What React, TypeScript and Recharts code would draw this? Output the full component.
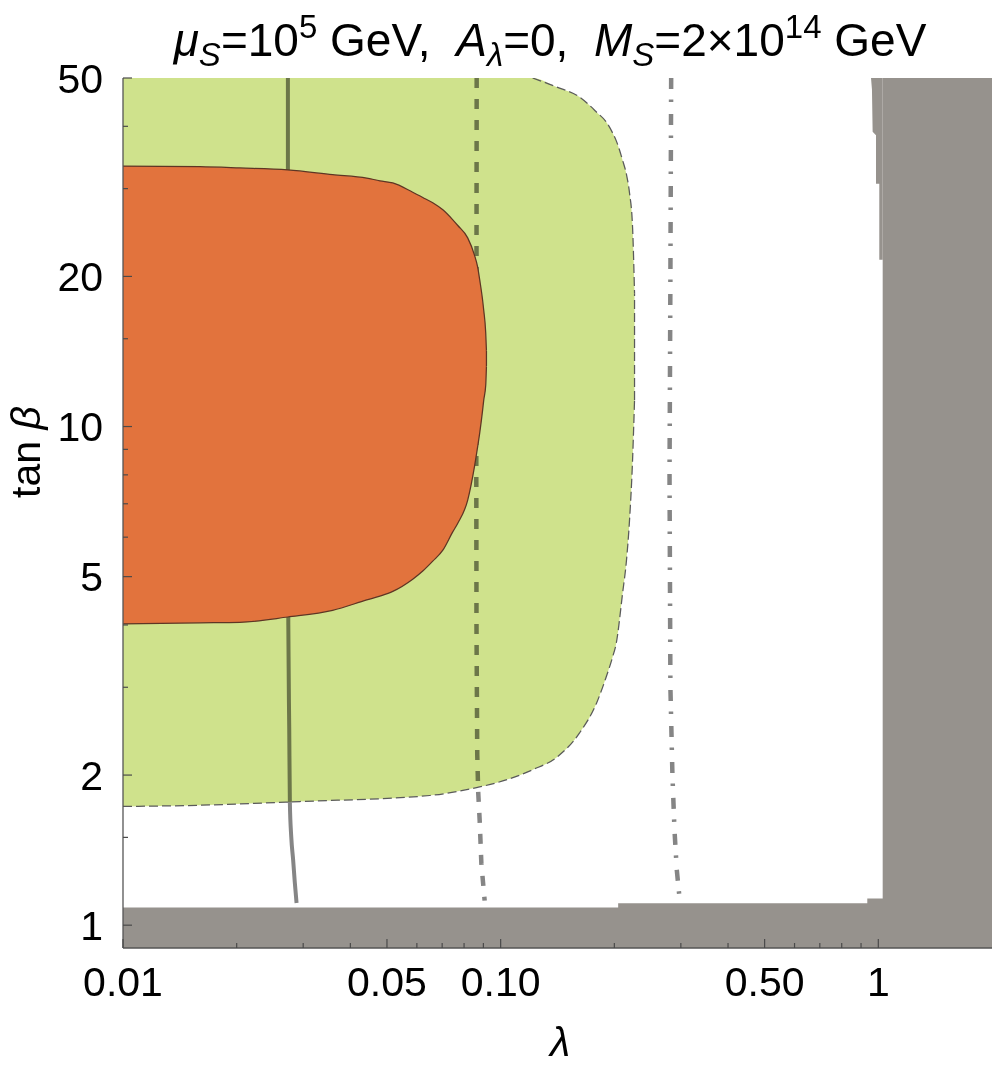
import React from 'react';
import { ComposedChart, Area, Line, XAxis, YAxis } from 'recharts';

// ---------- axis ticks ----------
const xMajorTicks = [0.01, 0.05, 0.1, 0.5, 1];
const xMajorLabels = ['0.01', '0.05', '0.10', '0.50', '1'];
const xMinorTicks = [0.02, 0.03, 0.04, 0.06, 0.07, 0.08, 0.09, 0.2, 0.3, 0.4, 0.6, 0.7, 0.8, 0.9];
const yMajorTicks = [1, 2, 5, 10, 20, 50];
const yMajorLabels = ['1', '2', '5', '10', '20', '50'];
const yMinorTicks = [1.5, 3, 4, 6, 7, 8, 9, 15, 30, 40];

// ---------- green region (dashed outline) ----------
const greenLambda = [0.01, 0.016, 0.0294, 0.0649, 0.0869, 0.0975, 0.1215, 0.1406, 0.1618, 0.1795, 0.1904, 0.1979, 0.2024, 0.2103, 0.2154, 0.2194, 0.2235, 0.2262];
const greenLow = [1.73, 1.74, 1.77, 1.82, 1.89, 1.93, 2.05, 2.17, 2.43, 2.79, 3.15, 3.45, 3.68, 4.63, 5.4, 6.49, 8.57, 11.3];
const greenHigh = [50, 50, 50, 50, 50, 50, 50, 47.97, 45.8, 42.7, 40.8, 38.8, 37.4, 34.2, 32.0, 29.4, 25.1, 18.5];

// ---------- orange region ----------
const orangeLambda = [0.01, 0.016, 0.0204, 0.0273, 0.0359, 0.0442, 0.0479, 0.0518, 0.0585, 0.0622, 0.0661, 0.0703, 0.0746, 0.077, 0.0818, 0.0852, 0.0869, 0.088, 0.0896, 0.0902, 0.0913, 0.0917];
const orangeHigh = [33.3, 33.2, 33.0, 32.7, 32.0, 31.5, 31.1, 30.8, 29.5, 28.8, 28.1, 27.2, 26.0, 25.3, 23.9, 22.1, 20.9, 19.7, 17.9, 17.1, 15.4, 14.2];
const orangeLow = [4.02, 4.04, 4.05, 4.15, 4.28, 4.49, 4.57, 4.67, 4.94, 5.13, 5.37, 5.65, 6.14, 6.4, 7.12, 8.29, 9.1, 9.7, 10.8, 11.3, 12.1, 13.2];

// ---------- curves ----------
const solidLambda = [0.02733, 0.02733, 0.0274, 0.02755, 0.02766, 0.0279, 0.02822, 0.0285, 0.02881];
const solidTan = [50, 10, 4, 2.5, 1.76, 1.5, 1.35, 1.22, 1.108];
const dashedLambda = [0.0864, 0.0862, 0.0863, 0.0867, 0.0872, 0.088, 0.0889, 0.0907];
const dashedTan = [50, 8, 4, 2.2, 1.85, 1.62, 1.33, 1.12];
const dashDotLambda = [0.2828, 0.2815, 0.28, 0.2815, 0.285, 0.2886, 0.2927, 0.2962, 0.2975];
const dashDotTan = [50, 20, 8, 3, 2, 1.55, 1.29, 1.175, 1.14];

// ---------- gray excluded regions ----------
const grayBottomLambda = [0.01, 0.2047, 0.2047, 0.935, 0.935, 1.027, 1.027, 2];
const grayBottomTop = [1.085, 1.085, 1.106, 1.106, 1.131, 1.131, 50, 50];
const grayRightLambda = [0.9565, 0.962, 0.966, 0.986, 0.986, 1.006, 1.006, 1.027];
const grayRightLow = [50, 47.4, 39, 38.4, 30.7, 30.7, 21.6, 21.6];

const Y_MIN = 0.9;
const Y_MAX = 50;
const X_MIN = 0.01;
const X_MAX = 2;

const greenData = greenLambda.map((x, i) => ({ x, r: [greenLow[i], greenHigh[i]] }));
const greenBottomLine = greenLambda.map((x, i) => ({ x, y: greenLow[i] }));
const firstBelowTop = greenHigh.findIndex((v) => v < Y_MAX);
const greenTopLine = greenLambda
  .map((x, i) => ({ x, y: greenHigh[i] }))
  .slice(Math.max(0, firstBelowTop - 1));
const greenLast = greenLambda.length - 1;
const greenEdgeLine = [
  { x: greenLambda[greenLast], y: greenLow[greenLast] },
  { x: greenLambda[greenLast], y: greenHigh[greenLast] },
];

const orangeData = orangeLambda.map((x, i) => ({ x, r: [orangeLow[i], orangeHigh[i]] }));
const orangeTopLine = orangeLambda.map((x, i) => ({ x, y: orangeHigh[i] }));
const orangeBottomLine = orangeLambda.map((x, i) => ({ x, y: orangeLow[i] }));
const orangeLast = orangeLambda.length - 1;
const orangeEdgeLine = [
  { x: orangeLambda[orangeLast], y: orangeLow[orangeLast] },
  { x: orangeLambda[orangeLast], y: orangeHigh[orangeLast] },
];

const solidData = solidLambda.map((x, i) => ({ x, y: solidTan[i] }));
const dashedData = dashedLambda.map((x, i) => ({ x, y: dashedTan[i] }));
const dashDotData = dashDotLambda.map((x, i) => ({ x, y: dashDotTan[i] }));
const grayBottomData = grayBottomLambda.map((x, i) => ({ x, r: [Y_MIN, grayBottomTop[i]] }));
const grayRightData = grayRightLambda.map((x, i) => ({ x, r: [grayRightLow[i], Y_MAX] }));

const xTicks = [...xMajorTicks, ...xMinorTicks];
const yTicks = [...yMajorTicks, ...yMinorTicks];

const FONT = 'Liberation Sans, Arial, sans-serif';
const TICK_COLOR = '#4a4a4a';
const MAJ = 9;
const MIN = 5;

const BottomTick = (props: any) => {
  const { x, y, payload } = props;
  const idx = xMajorTicks.indexOf(payload.value);
  const major = idx >= 0;
  return (
    <g>
      <line x1={x} y1={y} x2={x} y2={y - (major ? MAJ : MIN)} stroke={TICK_COLOR} strokeWidth={1.2} />
      {major && (
        <text x={x} y={y + 48} textAnchor="middle" fontSize={41} fontFamily={FONT} fill="#000">
          {xMajorLabels[idx]}
        </text>
      )}
    </g>
  );
};

const TopTick = (props: any) => {
  const { x, y, payload } = props;
  const major = xMajorTicks.indexOf(payload.value) >= 0;
  return <line x1={x} y1={y} x2={x} y2={y + (major ? MAJ : MIN)} stroke={TICK_COLOR} strokeWidth={1.2} />;
};

const LeftTick = (props: any) => {
  const { x, y, payload } = props;
  const idx = yMajorTicks.indexOf(payload.value);
  const major = idx >= 0;
  return (
    <g>
      <line x1={x} y1={y} x2={x + (major ? MAJ : MIN)} y2={y} stroke={TICK_COLOR} strokeWidth={1.2} />
      {major && (
        <text x={x - 20} y={y + 14.5} textAnchor="end" fontSize={41} fontFamily={FONT} fill="#000">
          {yMajorLabels[idx]}
        </text>
      )}
    </g>
  );
};

const RightTick = (props: any) => {
  const { x, y, payload } = props;
  const major = yMajorTicks.indexOf(payload.value) >= 0;
  return <line x1={x} y1={y} x2={x - (major ? MAJ : MIN)} y2={y} stroke={TICK_COLOR} strokeWidth={1.2} />;
};

const GREEN = '#cfe28c';
const ORANGE = '#e2733d';
const GRAY = '#96928d';
const LINE_GRAY = '#858585';
const GREEN_EDGE = '#5a5a5a';
const ORANGE_EDGE = '#5e3524';

const outline = (data: any[], stroke: string, dash: string | undefined, z: number, type: any = 'monotone') => (
  <Line
    data={data}
    dataKey="y"
    type={type}
    stroke={stroke}
    strokeWidth={1.25}
    strokeDasharray={dash}
    dot={false}
    activeDot={false}
    isAnimationActive={false}
    zIndex={z}
  />
);

export default function App() {
  const axisLine = { stroke: '#555', strokeWidth: 1.3 };
  return (
    <div style={{ position: 'absolute', left: 0, top: 0, width: 1000, height: 1072, background: '#fff' }}>
      <style>{`.blend { mix-blend-mode: multiply; }`}</style>
      <ComposedChart width={1000} height={1072} margin={{ top: 78, right: 8, bottom: 64, left: 63 }}>
        <Area
          data={greenData}
          dataKey="r"
          type="monotone"
          fill={GREEN}
          fillOpacity={1}
          stroke="none"
          isAnimationActive={false}
          zIndex={100}
        />
        {outline(greenBottomLine, GREEN_EDGE, '9 4', 101)}
        {outline(greenTopLine, GREEN_EDGE, '9 4', 101)}
        {outline(greenEdgeLine, GREEN_EDGE, '9 4', 101, 'linear')}
        <Line
          className="blend"
          data={solidData}
          dataKey="y"
          type="monotone"
          stroke={LINE_GRAY}
          strokeWidth={4}
          dot={false}
          activeDot={false}
          isAnimationActive={false}
          zIndex={102}
        />
        <Line
          className="blend"
          data={dashedData}
          dataKey="y"
          type="linear"
          stroke={LINE_GRAY}
          strokeWidth={4.5}
          strokeDasharray="10 11"
          dot={false}
          activeDot={false}
          isAnimationActive={false}
          zIndex={103}
        />
        <Line
          className="blend"
          data={dashDotData}
          dataKey="y"
          type="linear"
          stroke={LINE_GRAY}
          strokeWidth={4.5}
          strokeDasharray="11 10.5 2.5 12"
          dot={false}
          activeDot={false}
          isAnimationActive={false}
          zIndex={104}
        />
        <Area
          data={orangeData}
          dataKey="r"
          type="monotone"
          fill={ORANGE}
          fillOpacity={1}
          stroke="none"
          isAnimationActive={false}
          zIndex={105}
        />
        {outline(orangeTopLine, ORANGE_EDGE, undefined, 106)}
        {outline(orangeBottomLine, ORANGE_EDGE, undefined, 106)}
        {outline(orangeEdgeLine, ORANGE_EDGE, undefined, 106, 'linear')}
        <Area
          data={grayBottomData}
          dataKey="r"
          type="linear"
          fill={GRAY}
          fillOpacity={1}
          stroke="none"
          isAnimationActive={false}
          zIndex={107}
        />
        <Area
          data={grayRightData}
          dataKey="r"
          type="linear"
          fill={GRAY}
          fillOpacity={1}
          stroke="none"
          isAnimationActive={false}
          zIndex={108}
        />
        <XAxis
          dataKey="x"
          type="number"
          scale="log"
          domain={[X_MIN, X_MAX]}
          allowDataOverflow
          ticks={xTicks}
          interval={0}
          tickSize={0}
          tickMargin={0}
          tickLine={false}
          tick={BottomTick}
          axisLine={axisLine}
          height={60}
        />
        <XAxis
          xAxisId="top"
          orientation="top"
          dataKey="x"
          type="number"
          scale="log"
          domain={[X_MIN, X_MAX]}
          allowDataOverflow
          ticks={xTicks}
          interval={0}
          tickSize={0}
          tickMargin={0}
          tickLine={false}
          tick={TopTick}
          axisLine={axisLine}
          height={0}
        />
        <YAxis
          type="number"
          scale="log"
          domain={[Y_MIN, Y_MAX]}
          allowDataOverflow
          ticks={yTicks}
          interval={0}
          tickSize={0}
          tickMargin={0}
          tickLine={false}
          tick={LeftTick}
          axisLine={axisLine}
          width={60}
        />
        <YAxis
          yAxisId="right"
          orientation="right"
          type="number"
          scale="log"
          domain={[Y_MIN, Y_MAX]}
          allowDataOverflow
          ticks={yTicks}
          interval={0}
          tickSize={0}
          tickMargin={0}
          tickLine={false}
          tick={RightTick}
          axisLine={axisLine}
          width={0}
        />
      </ComposedChart>
      <svg
        width={1000}
        height={1072}
        style={{ position: 'absolute', left: 0, top: 0, pointerEvents: 'none' }}
        fontFamily={FONT}
      >
        <text x={550} y={56} textAnchor="middle" fontSize={46} fill="#000" style={{ whiteSpace: 'pre' }}>
          <tspan fontStyle="italic">μ</tspan>
          <tspan fontStyle="italic" fontSize={33} dy={10}>S</tspan>
          <tspan dy={-10}>=10</tspan>
          <tspan fontSize={33} dy={-18}>5</tspan>
          <tspan dy={18}>{' GeV,  '}</tspan>
          <tspan fontStyle="italic">A</tspan>
          <tspan fontStyle="italic" fontSize={33} dy={10}>λ</tspan>
          <tspan dy={-10}>{'=0,  '}</tspan>
          <tspan fontStyle="italic">M</tspan>
          <tspan fontStyle="italic" fontSize={33} dy={10}>S</tspan>
          <tspan dy={-10}>=2×10</tspan>
          <tspan fontSize={33} dy={-18}>14</tspan>
          <tspan dy={18}>{' GeV'}</tspan>
        </text>
        <text x={560} y={1056} textAnchor="middle" fontSize={41} fontStyle="italic" fill="#000">
          λ
        </text>
        <text transform="translate(40,452) rotate(-90)" textAnchor="middle" fontSize={41} fill="#000" style={{ whiteSpace: 'pre' }}>
          {'tan '}
          <tspan fontStyle="italic">β</tspan>
        </text>
      </svg>
    </div>
  );
}
